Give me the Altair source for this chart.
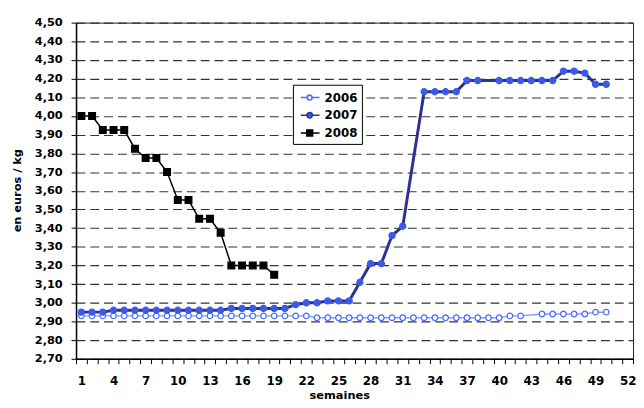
import pandas as pd
import altair as alt

# semaines 1..52, prix en euros / kg
weeks = list(range(1, 53))
years = ["2006", "2007", "2008"]

prix_2006 = [2.93, 2.93, 2.93, 2.93, 2.93, 2.93, 2.93, 2.93, 2.93, 2.93,
             2.93, 2.93, 2.93, 2.93, 2.93, 2.93, 2.93, 2.93, 2.93, 2.93,
             2.93, 2.93, 2.92, 2.92, 2.92, 2.92, 2.92, 2.92, 2.92, 2.92,
             2.92, 2.92, 2.92, 2.92, 2.92, 2.92, 2.92, 2.92, 2.92, 2.92,
             2.93, 2.93, None, 2.94, 2.94, 2.94, 2.94, 2.94, 2.95, 2.95]

prix_2007 = [2.95, 2.95, 2.95, 2.96, 2.96, 2.96, 2.96, 2.96, 2.96, 2.96,
             2.96, 2.96, 2.96, 2.96, 2.97, 2.97, 2.97, 2.97, 2.97, 2.97,
             2.99, 3.00, 3.00, 3.01, 3.01, 3.01, 3.11, 3.21, 3.21, 3.36,
             3.41, None, 4.13, 4.13, 4.13, 4.13, 4.19, 4.19, None, 4.19,
             4.19, 4.19, 4.19, 4.19, 4.19, 4.24, 4.24, 4.23, 4.17, 4.17]

prix_2008 = [4.00, 4.00, 3.925, 3.925, 3.925, 3.825, 3.775, 3.775, 3.70, 3.55,
             3.55, 3.45, 3.45, 3.375, 3.20, 3.20, 3.20, 3.20, 3.15]

y_ticks = [2.7, 2.8, 2.9, 3.0, 3.1, 3.2, 3.3, 3.4, 3.5, 3.6,
           3.7, 3.8, 3.9, 4.0, 4.1, 4.2, 4.3, 4.4, 4.5]

#%%
rows = []
for year, serie in zip(years, [prix_2006, prix_2007, prix_2008]):
    for week, v in zip(weeks, serie):
        if v is not None:
            rows.append({"semaine": week, "prix": v, "annee": year})
df = pd.DataFrame(rows)

FONT = "DejaVu Sans"

x_enc = alt.X("semaine:O",
              scale=alt.Scale(type="band", domain=weeks, paddingInner=0, paddingOuter=0),
              axis=alt.Axis(title="semaines", tickBand="extent", tickSize=5, labelAngle=0,
                            labelExpr="(datum.value - 1) % 3 == 0 ? datum.label : ''",
                            labelPadding=12, labelFontSize=12, grid=False,
                            titleX=267, titleY=31, titleBaseline="top", titleFontSize=11.5))
y_enc = alt.Y("prix:Q",
              scale=alt.Scale(domain=[2.7, 4.5], nice=False, zero=False),
              axis=alt.Axis(title="en euros / kg", values=y_ticks, tickSize=5,
                            labelExpr="replace(format(datum.value, '.2f'), '.', ',')",
                            labelPadding=9, labelFontSize=11.5,
                            grid=True, gridDash=[9, 5], gridColor="#333", gridWidth=1.1,
                            titleX=-54, titleY=170, titleFontSize=11.5))

base = alt.Chart(df).encode(x=x_enc, y=y_enc)

# (ligne, largeur, forme, remplissage, contour, taille)
styles = {
    "2006": ("#7f9cff", 1.5, "circle", "white", "#4a6cff", 32),
    "2007": ("#2e3192", 3, "circle", "#3a5be8", "#3a5be8", 38),
    "2008": ("#000000", 1.5, "square", "#000000", "#000000", 46),
}

layers = []
for year in years:
    lc, lw, shp, fc, sc, sz = styles[year]
    sub = base.transform_filter(alt.datum.annee == year)
    layers.append(sub.mark_line(color=lc, strokeWidth=lw))
    layers.append(sub.mark_point(shape=shp, fill=fc, stroke=sc, size=sz,
                                 strokeWidth=1.3, opacity=1, filled=False))

# legend only: symbols drawn as a short line with the marker
sym_paths = [
    "M-0.63,0H0.19 M0.81,0H1.75 M0.19,0A0.31,0.31 0 1,1 0.81,0A0.31,0.31 0 1,1 0.19,0Z",
    "M-0.63,0H0.16 M0.84,0H1.75 M0.16,0A0.34,0.34 0 1,1 0.84,0A0.34,0.34 0 1,1 0.16,0Z",
    "M-0.63,0H0.13 M0.87,0H1.75 M0.13,-0.37H0.87V0.37H0.13Z",
]
leg = alt.Legend(title=None, orient="none", legendX=220, legendY=63,
                 strokeColor="#000", fillColor="white", padding=4,
                 symbolSize=256, symbolStrokeWidth=1.6, rowPadding=3,
                 labelOffset=10, labelFontSize=12, labelFont=FONT,
                 labelFontWeight="bold", labelColor="#000")
legend_layer = base.transform_filter("false").mark_point(opacity=1).encode(
    shape=alt.Shape("annee:N", scale=alt.Scale(domain=years, range=sym_paths), legend=leg),
    fill=alt.Fill("annee:N", scale=alt.Scale(domain=years, range=["white", "#3a5be8", "#000"]), legend=leg),
    stroke=alt.Stroke("annee:N", scale=alt.Scale(domain=years, range=["#4a6cff", "#2e3192", "#000"]), legend=leg),
)
layers.append(legend_layer)

chart = (alt.layer(*layers)
         .properties(width=565, height=341,
                     autosize=alt.AutoSizeParams(type="none"),
                     padding={"left": 69, "top": 12, "right": 3, "bottom": 46})
         .configure_view(stroke="#222", strokeWidth=1)
         .configure_axis(labelFont=FONT, labelFontWeight="bold", labelColor="#000",
                         titleFont=FONT, titleFontWeight="bold", titleColor="#000",
                         domainColor="#000", domainWidth=1.5, tickColor="#000", tickWidth=1))

chart.save("out.html", embed_options={"renderer": "svg", "actions": False})
